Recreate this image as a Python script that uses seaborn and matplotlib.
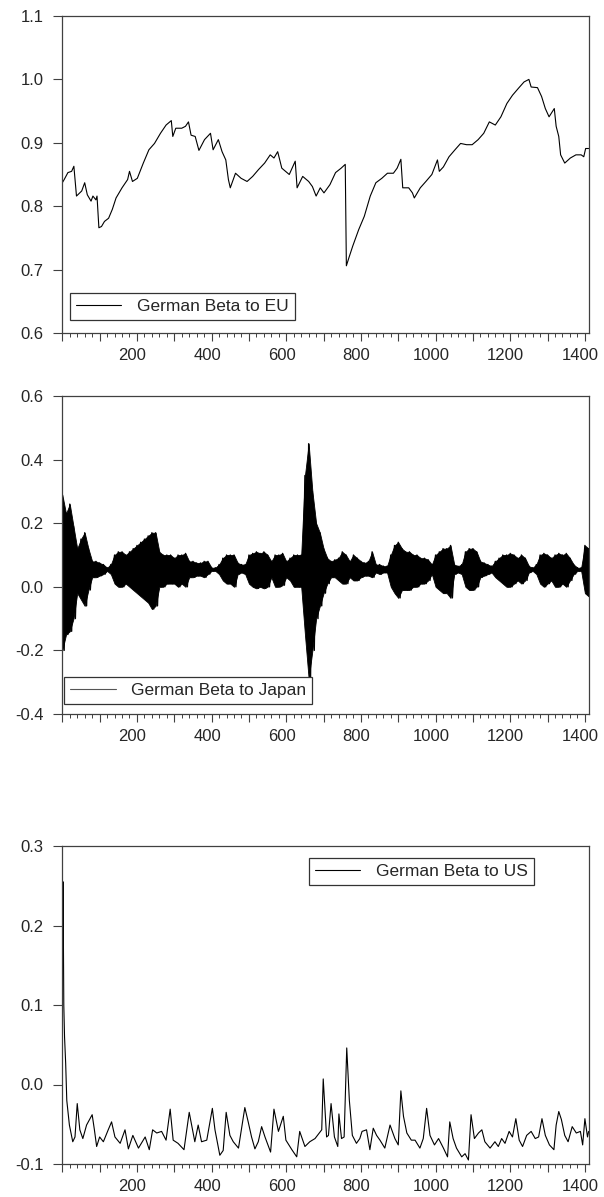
import numpy as np
import pandas as pd
import matplotlib
matplotlib.use("Agg")
import matplotlib.pyplot as plt
import matplotlib.ticker as mticker
import matplotlib.transforms as mtrans
import seaborn as sns

# ---------------- data ----------------
eu_x = [0, 5, 15, 25, 31, 38, 52, 60, 67, 77, 82, 90, 93, 98, 105, 113, 124, 134, 144,
        160, 175, 180, 188, 201, 217, 232, 247, 263, 278, 292, 296, 304, 320, 330, 338,
        345, 356, 366, 381, 397, 404, 418, 428, 438, 445, 450, 464, 479, 495, 510, 526,
        542, 557, 567, 577, 588, 598, 608, 624, 629, 644, 660, 670, 680, 691, 701, 717,
        732, 747, 758, 761, 768, 778, 794, 809, 825, 840, 856, 871, 887, 897, 907, 912,
        928, 938, 943, 959, 974, 990, 1005, 1010, 1021, 1036, 1052, 1067, 1083, 1098,
        1114, 1129, 1144, 1160, 1175, 1191, 1206, 1222, 1237, 1250, 1256, 1273, 1284,
        1294, 1304, 1318, 1323, 1330, 1335, 1346, 1361, 1376, 1390, 1397, 1402, 1410]
eu_y = [0.837, 0.842, 0.853, 0.855, 0.863, 0.816, 0.824, 0.837, 0.818, 0.808, 0.816,
        0.810, 0.816, 0.766, 0.768, 0.776, 0.781, 0.795, 0.813, 0.829, 0.842, 0.855,
        0.839, 0.844, 0.868, 0.889, 0.899, 0.915, 0.928, 0.935, 0.910, 0.923, 0.923,
        0.926, 0.933, 0.912, 0.910, 0.888, 0.905, 0.915, 0.889, 0.905, 0.886, 0.873,
        0.842, 0.829, 0.852, 0.844, 0.839, 0.847, 0.858, 0.868, 0.881, 0.876, 0.886,
        0.860, 0.855, 0.850, 0.871, 0.829, 0.847, 0.839, 0.831, 0.816, 0.829, 0.821,
        0.834, 0.853, 0.860, 0.866, 0.706, 0.719, 0.737, 0.763, 0.784, 0.816, 0.837,
        0.844, 0.852, 0.852, 0.860, 0.874, 0.829, 0.829, 0.821, 0.813, 0.829, 0.839,
        0.850, 0.873, 0.855, 0.862, 0.878, 0.889, 0.899, 0.897, 0.897, 0.905, 0.915,
        0.933, 0.928, 0.941, 0.962, 0.975, 0.986, 0.996, 1.000, 0.988, 0.987, 0.973,
        0.954, 0.941, 0.954, 0.926, 0.910, 0.881, 0.868, 0.876, 0.881, 0.881, 0.878,
        0.891, 0.891]

# Japan beta: dense oscillation, given as upper / lower envelope every 10 obs
jp_env_x = list(range(0, 1420, 10))
jp_upper = [0.29, 0.23, 0.26, 0.19, 0.12, 0.15, 0.17, 0.12, 0.08, 0.08,
            0.075, 0.07, 0.06, 0.07, 0.10, 0.11, 0.11, 0.10, 0.11, 0.12,
            0.13, 0.14, 0.15, 0.16, 0.17, 0.17, 0.11, 0.10, 0.10, 0.10,
            0.09, 0.10, 0.10, 0.105, 0.08, 0.08, 0.075, 0.075, 0.08, 0.08,
            0.06, 0.06, 0.07, 0.09, 0.10, 0.10, 0.10, 0.075, 0.07, 0.07,
            0.10, 0.105, 0.11, 0.105, 0.11, 0.10, 0.08, 0.10, 0.10, 0.105,
            0.08, 0.09, 0.10, 0.10, 0.10, 0.35, 0.45, 0.30, 0.20, 0.17,
            0.12, 0.09, 0.08, 0.085, 0.09, 0.11, 0.10, 0.08, 0.10, 0.09,
            0.08, 0.075, 0.08, 0.11, 0.07, 0.07, 0.065, 0.065, 0.10, 0.13,
            0.14, 0.12, 0.11, 0.11, 0.10, 0.10, 0.09, 0.09, 0.085, 0.07,
            0.10, 0.11, 0.12, 0.12, 0.13, 0.07, 0.065, 0.07, 0.11, 0.12,
            0.12, 0.11, 0.08, 0.075, 0.07, 0.065, 0.08, 0.09, 0.10, 0.10,
            0.105, 0.10, 0.09, 0.10, 0.09, 0.065, 0.06, 0.07, 0.10, 0.105,
            0.10, 0.09, 0.10, 0.105, 0.10, 0.105, 0.09, 0.07, 0.06, 0.06,
            0.13, 0.12]
jp_lower = [-0.20, -0.15, -0.14, -0.10, -0.02, -0.04, -0.06, -0.01, 0.03, 0.03,
            0.035, 0.04, 0.05, 0.04, 0.01, 0.00, 0.00, 0.01, 0.00, -0.01,
            -0.02, -0.03, -0.04, -0.05, -0.07, -0.06, 0.00, 0.00, 0.01, 0.01,
            0.01, 0.00, 0.01, 0.00, 0.03, 0.03, 0.035, 0.035, 0.03, 0.04,
            0.05, 0.05, 0.04, 0.02, 0.01, 0.01, 0.00, 0.04, 0.045, 0.04,
            0.01, 0.00, -0.005, 0.00, -0.005, 0.00, 0.03, 0.00, 0.00, 0.005,
            0.03, 0.02, 0.00, 0.00, 0.00, -0.15, -0.29, -0.20, -0.10, -0.06,
            -0.02, 0.01, 0.03, 0.03, 0.02, 0.01, 0.01, 0.03, 0.02, 0.02,
            0.03, 0.035, 0.035, 0.03, 0.045, 0.04, 0.045, 0.045, 0.00, -0.02,
            -0.035, -0.01, -0.01, -0.01, 0.00, 0.00, 0.01, 0.01, 0.02, 0.04,
            0.00, -0.01, -0.02, -0.02, -0.035, 0.04, 0.045, 0.04, 0.00, -0.01,
            -0.01, 0.00, 0.03, 0.035, 0.04, 0.045, 0.03, 0.02, 0.01, 0.00,
            0.00, 0.01, 0.02, 0.01, 0.02, 0.045, 0.05, 0.04, 0.01, 0.00,
            0.01, 0.02, 0.00, 0.00, 0.01, 0.00, 0.02, 0.04, 0.05, 0.05,
            -0.02, -0.03]

us_x = [1, 2, 4, 6, 9, 12, 19, 28, 34, 40, 47, 55, 65, 72, 80, 86, 92, 100, 110, 123,
        132, 141, 155, 168, 177, 189, 204, 222, 233, 242, 253, 266, 278, 289, 297, 310,
        326, 340, 349, 355, 364, 373, 387, 402, 409, 422, 431, 439, 449, 458, 472, 489,
        498, 507, 516, 525, 534, 543, 558, 567, 579, 592, 599, 615, 628, 636, 650, 663,
        677, 695, 699, 708, 713, 720, 729, 738, 741, 748, 755, 762, 769, 777, 788, 797,
        803, 815, 824, 833, 842, 851, 864, 878, 891, 900, 907, 914, 923, 935, 945, 958,
        967, 976, 985, 997, 1008, 1021, 1032, 1038, 1047, 1056, 1070, 1079, 1088, 1095,
        1104, 1115, 1124, 1132, 1146, 1159, 1168, 1177, 1186, 1197, 1206, 1215, 1224,
        1233, 1244, 1256, 1267, 1276, 1285, 1294, 1305, 1317, 1323, 1330, 1337, 1346,
        1355, 1366, 1377, 1388, 1394, 1400, 1407, 1410]
us_y = [0.150, 0.255, 0.100, 0.060, 0.027, -0.020, -0.051, -0.072, -0.066, -0.024,
        -0.057, -0.068, -0.051, -0.045, -0.038, -0.057, -0.078, -0.066, -0.072, -0.057,
        -0.047, -0.066, -0.074, -0.057, -0.081, -0.064, -0.080, -0.066, -0.082, -0.057,
        -0.061, -0.059, -0.070, -0.031, -0.070, -0.074, -0.082, -0.035, -0.057, -0.072,
        -0.051, -0.072, -0.070, -0.030, -0.057, -0.089, -0.083, -0.035, -0.064, -0.072,
        -0.080, -0.029, -0.047, -0.066, -0.081, -0.072, -0.053, -0.066, -0.085, -0.031,
        -0.059, -0.040, -0.070, -0.082, -0.091, -0.059, -0.078, -0.072, -0.068, -0.057,
        0.007, -0.066, -0.064, -0.024, -0.066, -0.078, -0.037, -0.068, -0.066, 0.046,
        -0.020, -0.064, -0.074, -0.068, -0.059, -0.057, -0.082, -0.055, -0.064, -0.070,
        -0.080, -0.051, -0.068, -0.076, -0.008, -0.040, -0.061, -0.070, -0.070, -0.080,
        -0.068, -0.030, -0.064, -0.076, -0.068, -0.080, -0.091, -0.047, -0.068, -0.080,
        -0.091, -0.087, -0.095, -0.038, -0.068, -0.061, -0.057, -0.072, -0.080, -0.072,
        -0.078, -0.068, -0.074, -0.059, -0.066, -0.043, -0.070, -0.078, -0.064, -0.059,
        -0.068, -0.066, -0.043, -0.064, -0.076, -0.082, -0.051, -0.034, -0.044, -0.064,
        -0.072, -0.053, -0.061, -0.059, -0.076, -0.043, -0.066, -0.059]

labels = ["German Beta to EU", "German Beta to Japan", "German Beta to US"]
ylims = [(0.6, 1.1), (-0.4, 0.6), (-0.1, 0.3)]
ysteps = [0.1, 0.2, 0.1]

# ---------------- style ----------------
sns.set_style("white")
plt.rcParams["font.family"] = ["Liberation Sans", "DejaVu Sans"]
plt.rcParams["axes.unicode_minus"] = False

W, H = 604, 1197
fig = plt.figure(figsize=(W / 100, H / 100), dpi=100)

def fig_rect(left, top, right, bottom):
    return [left / W, 1 - bottom / H, (right - left) / W, (bottom - top) / H]

rects = [fig_rect(62.3, 16, 589, 333), fig_rect(62.3, 396, 589, 714), fig_rect(62.3, 846, 589, 1164)]
axes = [fig.add_axes(r) for r in rects]

# Japan zigzag built from envelopes
jp_x = np.ravel(np.column_stack([np.array(jp_env_x), np.array(jp_env_x) + 5]))
jp_y = np.ravel(np.column_stack([jp_upper, jp_lower]))

frames = [pd.DataFrame({"x": eu_x, "y": eu_y}),
          pd.DataFrame({"x": jp_x, "y": jp_y}),
          pd.DataFrame({"x": us_x, "y": us_y})]
lws = [0.8, 1.0, 0.8]

spine_c = "#404040"
for i, ax in enumerate(axes):
    if i == 1:
        # the dense oscillation reads as a solid black band
        ax.fill_between(jp_env_x, jp_lower, jp_upper, color="black", lw=0.6,
                        edgecolor="black")
    sns.lineplot(data=frames[i], x="x", y="y", ax=ax, color="black", lw=lws[i],
                 estimator=None, sort=False, label=labels[i])
    ax.set_xlim(0, 1411)
    ax.set_ylim(*ylims[i])
    ax.set_xlabel("")
    ax.set_ylabel("")
    ax.yaxis.set_major_locator(mticker.MultipleLocator(ysteps[i]))
    ax.yaxis.set_major_formatter(mticker.FormatStrFormatter("%.1f"))
    ax.xaxis.set_major_locator(mticker.MultipleLocator(100))
    ax.xaxis.set_minor_locator(mticker.MultipleLocator(20))
    ax.xaxis.set_major_formatter(mticker.FuncFormatter(
        lambda v, p: f"{int(round(v))}" if (round(v) % 200 == 0 and v > 0) else ""))
    for s in ax.spines.values():
        s.set_color(spine_c)
        s.set_linewidth(0.9)
    ax.tick_params(axis="y", which="major", direction="out", length=6.5, width=0.8,
                   color=spine_c, labelsize=12, pad=7, left=True, right=False)
    ax.tick_params(axis="x", which="major", direction="out", length=6, width=0.8,
                   color=spine_c, labelsize=12, pad=5, bottom=True, top=False)
    ax.tick_params(axis="x", which="minor", direction="out", length=3, width=0.7,
                   color=spine_c, bottom=True, top=False)
    ax.grid(False)

# legends
leg_anchor = [(0.0146, 0.126), (0.004, 0.116), (0.468, 0.962)]
for i, ax in enumerate(axes):
    leg = ax.legend(loc="upper left", bbox_to_anchor=leg_anchor[i], frameon=True,
                    fancybox=False, fontsize=12.5, handlelength=2.6, handletextpad=0.9,
                    borderpad=0.35, borderaxespad=0.0)
    fr = leg.get_frame()
    fr.set_edgecolor("#333333")
    fr.set_linewidth(0.9)
    fr.set_facecolor("white")
    fr.set_alpha(1)
    leg.set_zorder(5)
    for ln in leg.get_lines():
        ln.set_linewidth(0.8)
        ln.set_color("black" if i != 1 else "#555555")

# shift x tick labels slightly left like the original
offset = mtrans.ScaledTranslation(-4.5 / 100, 0, fig.dpi_scale_trans)
for ax in axes:
    for lab in ax.get_xticklabels():
        lab.set_transform(lab.get_transform() + offset)

fig.savefig("out.png", dpi=100)
